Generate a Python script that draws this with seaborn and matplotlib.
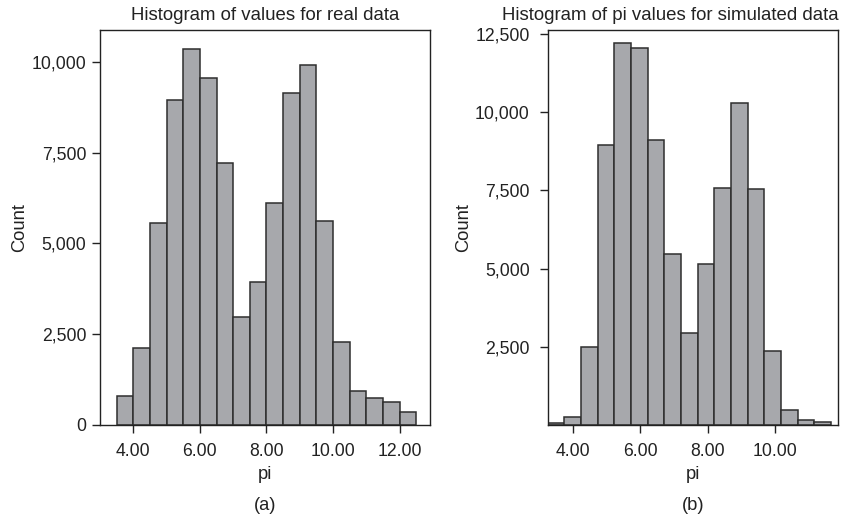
import matplotlib
matplotlib.use("Agg")
import matplotlib.pyplot as plt
import matplotlib.ticker as mticker
import seaborn as sns

# ---- data ----
real_edges = [3.5, 4.0, 4.5, 5.0, 5.5, 6.0, 6.5, 7.0, 7.5, 8.0, 8.5, 9.0,
              9.5, 10.0, 10.5, 11.0, 11.5, 12.0, 12.5]
real_counts = [805, 2134, 5558, 8947, 10366, 9560, 7207, 2976, 3938, 6108,
               9148, 9927, 5623, 2298, 925, 751, 641, 348]

sim_edges = [3.25, 3.745, 4.24, 4.735, 5.23, 5.725, 6.22, 6.715, 7.21, 7.705,
             8.2, 8.695, 9.19, 9.685, 10.18, 10.675, 11.17, 11.665]
sim_counts = [65, 257, 2478, 8947, 12201, 12041, 9098, 5472, 2946, 5151,
              7580, 10308, 7535, 2359, 480, 150, 85]

real_yticks = [0, 2500, 5000, 7500, 10000]
sim_yticks = [2500, 5000, 7500, 10000, 12500]
real_xticks = [4, 6, 8, 10, 12]
sim_xticks = [4, 6, 8, 10]

titles = ["Histogram of values for real data",
          "Histogram of pi values for simulated data"]
panel_labels = ["(a)", "(b)"]

# ---- style ----
sns.set_theme(style="ticks")
plt.rcParams["font.family"] = ["Liberation Sans", "DejaVu Sans"]
plt.rcParams["axes.edgecolor"] = "#222222"
plt.rcParams["axes.linewidth"] = 1.0

BAR = "#a7a8ac"
EDGE = "#2e2e2e"

fig = plt.figure(figsize=(8.42, 5.2), dpi=100)
ax1 = fig.add_axes([0.1188, 0.1827, 0.3913, 0.7596])
ax2 = fig.add_axes([0.6505, 0.1827, 0.3444, 0.7596])


def centers(edges):
    return [(a + b) / 2 for a, b in zip(edges[:-1], edges[1:])]


sns.histplot(x=centers(real_edges), weights=real_counts, bins=real_edges,
             ax=ax1, color=BAR, edgecolor=EDGE, linewidth=1.1, alpha=1)
sns.histplot(x=centers(sim_edges), weights=sim_counts, bins=sim_edges,
             ax=ax2, color=BAR, edgecolor=EDGE, linewidth=1.1, alpha=1)

ax1.set_xlim(3.0, 12.9)
ax1.set_ylim(0, 10880)
ax2.set_xlim(3.25, 11.86)
ax2.set_ylim(0, 12630)

for ax, xt, yt, ypad in [(ax1, real_xticks, real_yticks, 4),
                         (ax2, sim_xticks, sim_yticks, 7)]:
    ax.set_xticks(xt)
    ax.set_yticks(yt)
    ax.xaxis.set_major_formatter(mticker.FuncFormatter(lambda v, p: f"{v:.2f}"))
    ax.yaxis.set_major_formatter(mticker.FuncFormatter(lambda v, p: f"{v:,.0f}"))
    ax.tick_params(axis="both", direction="out", length=6, width=1.0,
                   color="#222222", labelsize=12.7, labelcolor="#222222")
    ax.tick_params(axis="x", pad=7)
    ax.tick_params(axis="y", pad=ypad)
    ax.set_xlabel("pi", fontsize=13.2, color="#222222", labelpad=4)
    ax.set_ylabel("Count", fontsize=13.2, color="#222222", labelpad=2)
    for s in ax.spines.values():
        s.set_visible(True)
        s.set_color("#222222")

ax1.set_title(titles[0], fontsize=13.4, color="#222222", pad=7)
ax2.set_title(titles[1], fontsize=13.4, color="#222222", pad=7, x=0.4217)

fig.text((100 + 429.5) / 2 / 842, 1 - 505 / 520, panel_labels[0],
         ha="center", va="center", fontsize=13.2, color="#222222")
fig.text((547.7 + 837.7) / 2 / 842, 1 - 505 / 520, panel_labels[1],
         ha="center", va="center", fontsize=13.2, color="#222222")

fig.savefig("out.png", dpi=100, facecolor="white")
